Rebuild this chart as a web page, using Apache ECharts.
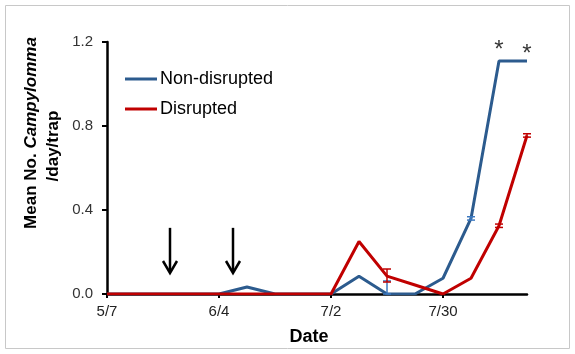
<!DOCTYPE html>
<html>
<head>
<meta charset="utf-8">
<script src="https://cdn.jsdelivr.net/npm/echarts@6/dist/echarts.min.js"></script>
<style>
html,body{margin:0;padding:0;background:#fff;}
#chart{width:575px;height:354px;}
</style>
</head>
<body>
<div id="chart"></div>
<script>
// Weekly sampling dates
var dates = ['5/7','5/14','5/21','5/28','6/4','6/11','6/18','6/25','7/2','7/9','7/16','7/23','7/30','8/6','8/13','8/20'];
var nonDisrupted = [0,0,0,0,0,0.033,0,0,0,0.085,0,0,0.075,0.36,1.11,1.11];
var disrupted    = [0,0,0,0,0,0,0,0,0,0.25,0.085,0.043,0,0.075,0.325,0.755];
// error bars: [dateIndex, low, high]
var nonDisruptedErr = [[10,0,0.062],[13,0.352,0.368]];
var disruptedErr    = [[10,0.057,0.119],[14,0.317,0.333],[15,0.747,0.763]];
// significance marks: [dateIndex, value]
var stars = [[14,1.16],[15,1.14]];
// treatment arrows: [position (date index), top value, bottom value]
var arrows = [[2.25,0.315,0.1],[4.5,0.315,0.1]];

var BLUE = '#2c5b8e', RED = '#c00000', FONT = 'Liberation Sans, Arial, sans-serif';

function errRender(color){
  return function(params, api){
    var x = api.value(0);
    var lo = api.coord([x, api.value(1)]);
    var hi = api.coord([x, api.value(2)]);
    var w = 4;
    var st = {stroke: color, lineWidth: 1.5};
    return {type:'group', children:[
      {type:'line', shape:{x1:lo[0],y1:lo[1],x2:hi[0],y2:hi[1]}, style:st},
      {type:'line', shape:{x1:hi[0]-w,y1:hi[1],x2:hi[0]+w,y2:hi[1]}, style:st},
      {type:'line', shape:{x1:lo[0]-w,y1:lo[1],x2:lo[0]+w,y2:lo[1]}, style:st}
    ]};
  };
}

// coordinate at fractional category position (linear between neighbouring categories)
function fracCoord(api, x, v){
  var i0 = Math.floor(x), i1 = Math.ceil(x), f = x - i0;
  var p0 = api.coord([i0, v]), p1 = api.coord([i1, v]);
  return [p0[0] + (p1[0]-p0[0])*f, p0[1]];
}

var chart = echarts.init(document.getElementById('chart'), null, {renderer:'canvas'});
chart.setOption({
  animation:false,
  backgroundColor:'#fff',
  textStyle:{fontFamily:FONT},
  grid:{left:107, right:48, top:42, bottom:60, containLabel:false},
  legend:{
    orient:'vertical', left:125, top:70, itemWidth:32, itemHeight:3, itemGap:12,
    icon:'rect', padding:0,
    textStyle:{fontSize:18, color:'#000', fontFamily:FONT, lineHeight:18, padding:[0,0,0,-2]},
    data:[{name:'Non-disrupted'},{name:'Disrupted'}]
  },
  xAxis:{
    type:'category', data:dates, boundaryGap:false,
    axisLine:{lineStyle:{color:'#000', width:2.5}},
    axisTick:{show:true, interval:3, length:4, lineStyle:{color:'#000', width:2}},
    axisLabel:{interval:3, fontSize:15, color:'#222', margin:10, fontFamily:FONT},
    splitLine:{show:false}
  },
  yAxis:{
    type:'value', min:0, max:1.2, interval:0.4,
    axisLine:{show:true, lineStyle:{color:'#000', width:2.5}},
    axisTick:{show:true, length:5, lineStyle:{color:'#000', width:2}},
    axisLabel:{fontSize:15, color:'#333', margin:14, fontFamily:FONT,
      formatter:function(v){ return v.toFixed(1); }},
    splitLine:{show:false}
  },
  graphic:[
    {type:'rect', shape:{x:5.5,y:5.5,width:564,height:343}, style:{fill:'none', stroke:'#c8c8c8', lineWidth:1}, silent:true},
    {type:'text', x:31, y:133, rotation:Math.PI/2,
      style:{text:'{a|Mean No. }{b|Campylomma}', align:'center', verticalAlign:'middle',
        rich:{a:{fontSize:17, fontWeight:'bold', fontFamily:FONT, fill:'#000'},
              b:{fontSize:17, fontWeight:'bold', fontStyle:'italic', fontFamily:FONT, fill:'#000'}}}},
    {type:'text', x:53, y:146, rotation:Math.PI/2,
      style:{text:'/day/trap', align:'center', verticalAlign:'middle',
        fontSize:17, fontWeight:'bold', fontFamily:FONT, fill:'#000'}},
    {type:'text', x:309, y:337,
      style:{text:'Date', align:'center', verticalAlign:'middle',
        fontSize:18, fontWeight:'bold', fontFamily:FONT, fill:'#000'}}
  ],
  series:[
    {name:'Non-disrupted', type:'line', data:nonDisrupted, color:BLUE, showSymbol:false,
      lineStyle:{width:3, color:BLUE}, z:3},
    {name:'Disrupted', type:'line', data:disrupted, color:RED, showSymbol:false,
      lineStyle:{width:3, color:RED}, z:4},
    {name:'nd-err', type:'custom', data:nonDisruptedErr, renderItem:errRender('#3b78c0'), z:5, silent:true},
    {name:'d-err', type:'custom', data:disruptedErr, renderItem:errRender(RED), z:6, silent:true},
    {name:'stars', type:'scatter', data:stars, symbolSize:0, silent:true,
      label:{show:true, formatter:'*', position:'inside', fontSize:24, color:'#000', fontFamily:FONT}},
    {name:'arrows', type:'custom', data:arrows, silent:true, z:7,
      renderItem:function(params, api){
        var x = api.value(0);
        var top = fracCoord(api, x, api.value(1));
        var bot = fracCoord(api, x, api.value(2));
        var st = {stroke:'#000', lineWidth:2.5, fill:'none', lineJoin:'miter'};
        return {type:'group', children:[
          {type:'line', shape:{x1:top[0],y1:top[1],x2:bot[0],y2:bot[1]-1}, style:st},
          {type:'polyline', shape:{points:[[bot[0]-7,bot[1]-12],[bot[0],bot[1]],[bot[0]+7,bot[1]-12]]}, style:st}
        ]};
      }}
  ]
});
</script>
</body>
</html>
